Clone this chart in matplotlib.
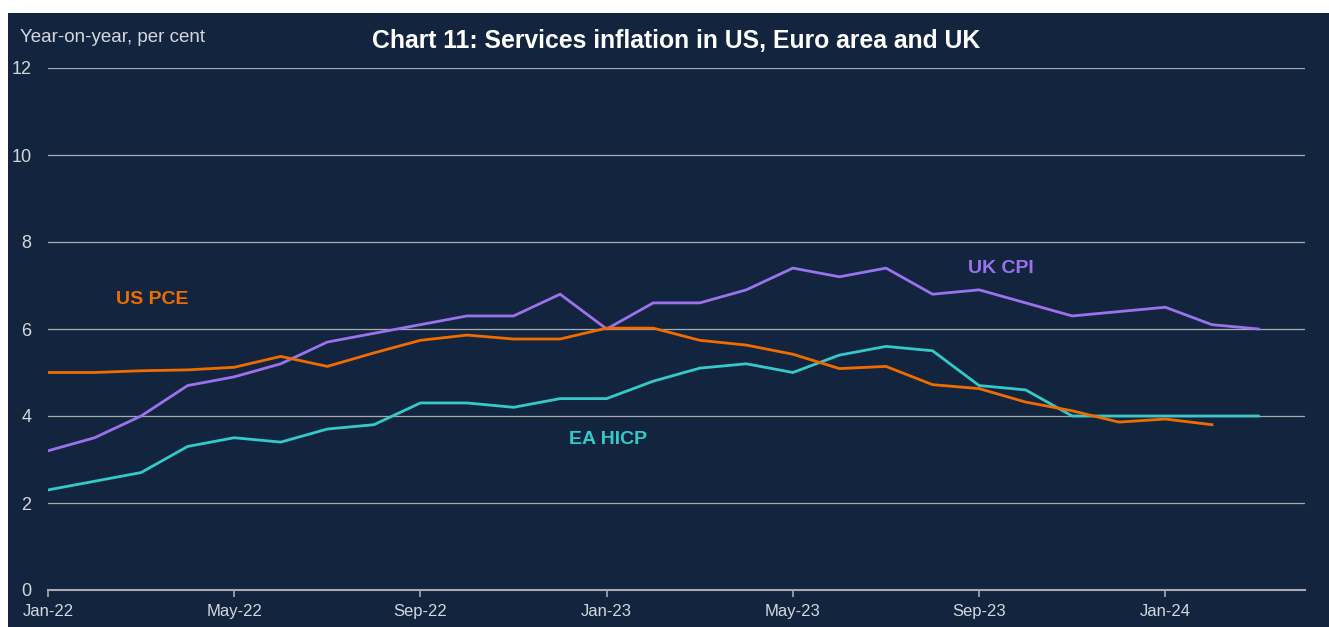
import matplotlib.pyplot as plt

# monthly data, Jan-22 .. Mar-24
months = ['Jan-22', 'Feb-22', 'Mar-22', 'Apr-22', 'May-22', 'Jun-22', 'Jul-22', 'Aug-22',
          'Sep-22', 'Oct-22', 'Nov-22', 'Dec-22', 'Jan-23', 'Feb-23', 'Mar-23', 'Apr-23',
          'May-23', 'Jun-23', 'Jul-23', 'Aug-23', 'Sep-23', 'Oct-23', 'Nov-23', 'Dec-23',
          'Jan-24', 'Feb-24', 'Mar-24']

uk_cpi = [3.2, 3.5, 4.0, 4.7, 4.9, 5.2, 5.7, 5.9, 6.1, 6.3, 6.3, 6.8, 6.0, 6.6, 6.6, 6.9,
          7.4, 7.2, 7.4, 6.8, 6.9, 6.6, 6.3, 6.4, 6.5, 6.1, 6.0]
ea_hicp = [2.3, 2.5, 2.7, 3.3, 3.5, 3.4, 3.7, 3.8, 4.3, 4.3, 4.2, 4.4, 4.4, 4.8, 5.1, 5.2,
           5.0, 5.4, 5.6, 5.5, 4.7, 4.6, 4.0, 4.0, 4.0, 4.0, 4.0]
us_pce = [5.0, 5.0, 5.04, 5.06, 5.12, 5.37, 5.14, 5.45, 5.74, 5.86, 5.77, 5.77, 6.02, 6.02,
          5.74, 5.63, 5.42, 5.09, 5.14, 4.72, 4.63, 4.32, 4.12, 3.86, 3.93, 3.8]

tick_labels = ['Jan-22', 'May-22', 'Sep-22', 'Jan-23', 'May-23', 'Sep-23', 'Jan-24']

bg = '#13253e'
txt = '#d4d8de'
grid = '#a7aab0'
c_us = '#f06c00'
c_ea = '#35c9c9'
c_uk = '#9b72ee'

plt.rcParams['font.family'] = ['Liberation Sans', 'DejaVu Sans']

W, H = 1329, 627
fig = plt.figure(figsize=(W / 100, H / 100), dpi=100, facecolor='white')

# dark panel behind everything, thin white margin top/left
bg_ax = fig.add_axes([8 / W, 0, 1 - 8 / W, 1 - 13 / H], zorder=0)
bg_ax.set_facecolor(bg)
bg_ax.set_xticks([])
bg_ax.set_yticks([])
for s in bg_ax.spines.values():
    s.set_visible(False)

ax = fig.add_axes([48 / W, 1 - 590 / H, (1305 - 48) / W, (590 - 68) / H], zorder=1)
ax.patch.set_alpha(0)

ax.plot(range(len(uk_cpi)), uk_cpi, color=c_uk, lw=2, zorder=3)
ax.plot(range(len(ea_hicp)), ea_hicp, color=c_ea, lw=2, zorder=3)
ax.plot(range(len(us_pce)), us_pce, color=c_us, lw=2, zorder=4)

ax.set_xlim(0, 27)
ax.set_ylim(0, 12)
ax.set_yticks(range(0, 13, 2))
for y in range(2, 13, 2):
    ax.axhline(y, color=grid, lw=0.9, zorder=1)

ax.set_xticks([months.index(m) for m in tick_labels])
ax.set_xticklabels(tick_labels)

for s in ['top', 'right', 'left']:
    ax.spines[s].set_visible(False)
ax.spines['bottom'].set_color(grid)
ax.spines['bottom'].set_linewidth(1.5)
ax.tick_params(axis='y', length=0, pad=12, labelsize=13, labelcolor=txt)
ax.tick_params(axis='x', length=5, width=1.2, color=grid, pad=5, labelsize=12, labelcolor=txt)

ax.text(2.24, 6.67, 'US PCE', color=c_us, fontsize=14, fontweight='bold', va='center', ha='center')
ax.text(12.02, 3.45, 'EA HICP', color=c_ea, fontsize=14, fontweight='bold', va='center', ha='center')
ax.text(20.47, 7.38, 'UK CPI', color=c_uk, fontsize=14, fontweight='bold', va='center', ha='center')

fig.text(20 / W, 1 - 37 / H, 'Year-on-year, per cent', color=txt, fontsize=13.5, va='center', ha='left')
fig.text(676 / W, 1 - 41 / H, 'Chart 11: Services inflation in US, Euro area and UK',
         color='white', fontsize=17.8, fontweight='bold', va='center', ha='center')

fig.savefig('out.png', dpi=100, facecolor='white')
